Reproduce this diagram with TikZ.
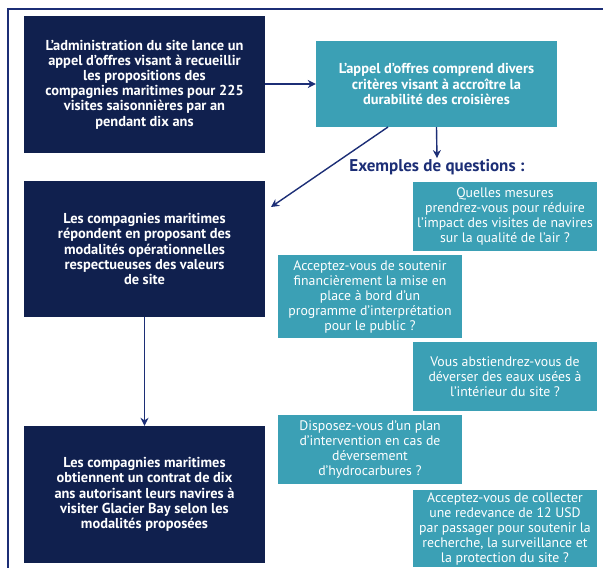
\documentclass[tikz,border=0pt]{standalone}
\usepackage{fontspec}
\setmainfont{PT Sans}
\usetikzlibrary{arrows.meta}

\definecolor{marine}{RGB}{16,32,78}
\definecolor{sarcelle}{RGB}{59,160,181}
\definecolor{fleche}{RGB}{28,46,118}

\begin{document}
\begin{tikzpicture}[x=1pt,y=-1pt,
    bloc/.style={fill=marine, text=white, align=center, inner sep=0pt,
        minimum width=241pt, font=\bfseries\fontsize{14.4}{15.2}\selectfont},
    critere/.style={fill=sarcelle, text=white, align=center, inner sep=0pt,
        minimum width=241pt, font=\bfseries\fontsize{14.4}{15.2}\selectfont},
    question/.style={fill=sarcelle, text=white, align=center, inner sep=0pt,
        minimum width=184pt, font=\fontsize{13.8}{15}\selectfont},
    lien/.style={draw=fleche, line width=1.4pt, -{Stealth[length=8pt,width=8pt]}}]
    \useasboundingbox (0,0) rectangle (603,568);

    % Cadre
    \draw[fleche, line width=1.2pt] (603,9) -- (8,9) -- (8,568);

    % Etapes
    \node[bloc, minimum height=137pt] (admin) at (144.5,84.5)
        {L’administration du site lance un\\ appel d’offres visant à recueillir\\ les propositions des\\ compagnies maritimes pour 225\\ visites saisonnières par an\\ pendant dix ans};
    \node[critere, minimum height=86pt] (appel) at (436.5,84)
        {L’appel d’offres comprend divers\\ critères visant à accroître la\\ durabilité des croisières};
    \node[bloc, minimum height=136pt] (reponse) at (144.5,249)
        {Les compagnies maritimes\\ répondent en proposant des\\ modalités opérationnelles\\ respectueuses des valeurs\\ de site};
    \node[bloc, minimum height=137pt] (contrat) at (144.5,494.5)
        {Les compagnies maritimes\\ obtiennent un contrat de dix\\ ans autorisant leurs navires à\\ visiter Glacier Bay selon les\\ modalités proposées};

    % Questions
    \node[text=fleche, font=\bfseries\fontsize{17}{18}\selectfont, inner sep=1pt] (exemples) at (437,167)
        {Exemples de questions :};
    \node[question, minimum height=69pt] (q1) at (505,216.5)
        {Quelles mesures\\ prendrez-vous pour réduire\\ l’impact des visites de navires\\ sur la qualité de l’air ?};
    \node[question, minimum height=83pt] (q2) at (370,296.5)
        {Acceptez-vous de soutenir\\ financièrement la mise en\\ place à bord d’un\\ programme d’interprétation\\ pour le public ?};
    \node[question, minimum height=69pt] (q3) at (505,376.5)
        {Vous abstiendrez-vous de\\ déverser des eaux usées à\\ l’intérieur du site ?};
    \node[question, minimum height=69pt] (q4) at (370,449.5)
        {Disposez-vous d’un plan\\ d’intervention en cas de\\ déversement\\ d’hydrocarbures ?};
    \node[question, minimum height=77pt] (q5) at (505,528.5)
        {Acceptez-vous de collecter\\ une redevance de 12 USD\\ par passager pour soutenir la\\ recherche, la surveillance et\\ la protection du site ?};

    % Fleches
    \coordinate (depart) at (388,127);
    \coordinate (pointe) at (271,207);
    \draw[lien] (admin.east |- appel.west) -- (appel.west);
    \draw[lien] (appel.south) -- (exemples.north);
    \draw[lien] (depart) -- (pointe);
    \draw[lien] (reponse.south) -- (contrat.north);
\end{tikzpicture}
\end{document}
